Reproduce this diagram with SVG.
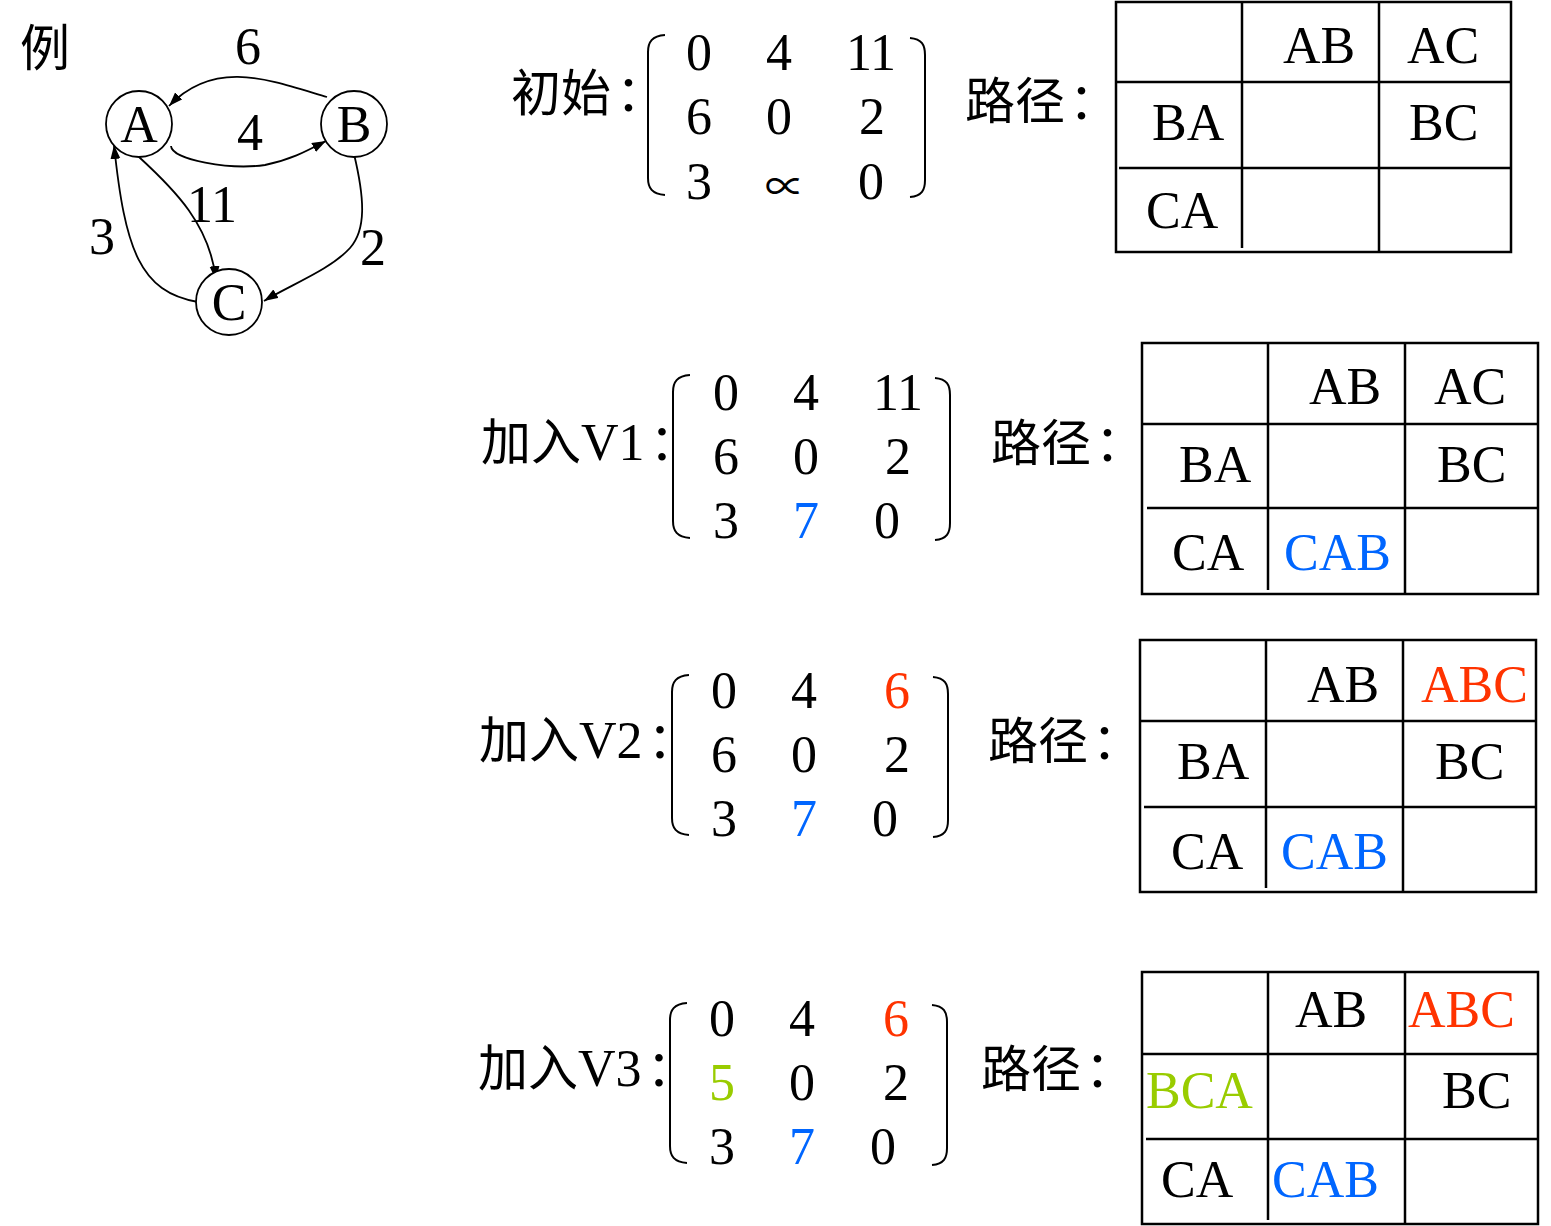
<svg xmlns="http://www.w3.org/2000/svg" width="1551" height="1226" viewBox="0 0 1551 1226">
<style>
.t{font-family:"Liberation Serif","Noto Sans CJK SC",serif;font-size:52px;fill:#000}
.c{font-family:"Liberation Serif","Noto Sans CJK SC",serif;font-size:50px;fill:#000}
.m{text-anchor:middle}
.blue{fill:#0066FF}
.red{fill:#FF3300}
.green{fill:#99CC00}
.ln{stroke:#000;stroke-width:2.5;fill:none}
.br{stroke:#000;stroke-width:2;fill:none}
.node{fill:#fff;stroke:#000;stroke-width:1.8}
.edge{stroke:#000;stroke-width:1.8;fill:none;marker-end:url(#ah)}
</style>
<defs>
<marker id="ah" markerUnits="userSpaceOnUse" markerWidth="16" markerHeight="12" refX="14" refY="5" orient="auto">
<path d="M0,0 L14,5 L0,10 z" fill="#000"/>
</marker>
</defs>
<rect width="1551" height="1226" fill="#fff"/>

<text class="c" x="20" y="66">例</text>

<g id="connectors">
<path class="edge" d="M327 97 C270 80 215 58 169 106"/>
<path class="edge" d="M171 146 C172 160 230 170 265 165 C290 160 305 152 326 141"/>
<path class="edge" d="M139 157 C175 190 210 225 216 280"/>
<path class="edge" d="M198 302 C140 292 125 250 114 145"/>
<path class="edge" d="M354 154 C365 200 366 230 350 248 C330 270 290 285 264 301"/>
<text class="t m" x="248" y="64">6</text>
<text class="t m" x="250" y="150">4</text>
<text class="t m" x="212" y="222">11</text>
<text class="t m" x="102" y="254">3</text>
<text class="t m" x="373" y="265">2</text>
</g>

<g id="nodeA"><circle class="node" cx="139" cy="124" r="33"/><text class="t m" x="139" y="142">A</text></g>
<g id="nodeB"><circle class="node" cx="354" cy="124" r="33"/><text class="t m" x="354" y="142">B</text></g>
<g id="nodeC"><circle class="node" cx="229" cy="302" r="33"/><text class="t m" x="229" y="320">C</text></g>

<!-- Matrix 1 -->
<g id="matrix0">
<text class="c" x="511" y="111">初始<tspan dx="5">：</tspan></text>
<path class="br" d="M665 35 C652 36 648 42 648 52 L648 178 C648 188 652 194 665 195"/>
<path class="br" d="M910 38 C922 39 925 45 925 55 L925 180 C925 190 922 196 910 197"/>
<text class="t m" x="699" y="70">0</text><text class="t m" x="779" y="70">4</text><text class="t m" x="871" y="70">11</text>
<text class="t m" x="699" y="134">6</text><text class="t m" x="779" y="134">0</text><text class="t m" x="872" y="134">2</text>
<text class="t m" x="699" y="199">3</text><text class="t m" x="785" y="201" style="font-size:40px">∝</text><text class="t m" x="871" y="199">0</text>
<text class="c" x="965" y="119">路径<tspan dx="4">：</tspan></text>
</g>
<g id="table0">
<rect class="ln" x="1116" y="2" width="395" height="250"/>
<line class="ln" x1="1116" y1="82" x2="1511" y2="82"/>
<line class="ln" x1="1119" y1="168" x2="1511" y2="168"/>
<line class="ln" x1="1242" y1="2" x2="1242" y2="248"/>
<line class="ln" x1="1379" y1="2" x2="1379" y2="252"/>
<text class="t" x="1283" y="63">AB</text><text class="t" x="1407" y="63">AC</text>
<text class="t" x="1152" y="140">BA</text><text class="t" x="1409" y="140">BC</text>
<text class="t" x="1146" y="228">CA</text>
</g>

<!-- Matrix 2 -->
<g id="matrix1">
<text class="c" x="481" y="460">加入<tspan class="t">V1</tspan><tspan dx="5">：</tspan></text>
<path class="br" d="M690 375 C677 376 673 382 673 392 L673 521 C673 531 677 537 690 538"/>
<path class="br" d="M935 378 C947 379 950 385 950 395 L950 523 C950 533 947 539 935 540"/>
<text class="t m" x="726" y="410">0</text><text class="t m" x="806" y="410">4</text><text class="t m" x="898" y="410">11</text>
<text class="t m" x="726" y="474">6</text><text class="t m" x="806" y="474">0</text><text class="t m" x="898" y="474">2</text>
<text class="t m" x="726" y="538">3</text><text class="t m blue" x="806" y="538">7</text><text class="t m" x="887" y="538">0</text>
<text class="c" x="991" y="461">路径<tspan dx="4">：</tspan></text>
</g>
<g id="table1">
<rect class="ln" x="1142" y="343" width="396" height="251"/>
<line class="ln" x1="1142" y1="424" x2="1538" y2="424"/>
<line class="ln" x1="1147" y1="508" x2="1538" y2="508"/>
<line class="ln" x1="1268" y1="343" x2="1268" y2="590"/>
<line class="ln" x1="1405" y1="343" x2="1405" y2="594"/>
<text class="t" x="1309" y="404">AB</text><text class="t" x="1434" y="404">AC</text>
<text class="t" x="1179" y="482">BA</text><text class="t" x="1437" y="482">BC</text>
<text class="t" x="1172" y="570">CA</text><text class="t blue" x="1284" y="570">CAB</text>
</g>

<!-- Matrix 3 -->
<g id="matrix2">
<text class="c" x="479" y="758">加入<tspan class="t">V2</tspan><tspan dx="5">：</tspan></text>
<path class="br" d="M689 675 C676 676 672 682 672 692 L672 818 C672 828 676 834 689 835"/>
<path class="br" d="M933 677 C945 678 948 684 948 694 L948 820 C948 830 945 836 933 837"/>
<text class="t m" x="724" y="708">0</text><text class="t m" x="804" y="708">4</text><text class="t m red" x="897" y="708">6</text>
<text class="t m" x="724" y="772">6</text><text class="t m" x="804" y="772">0</text><text class="t m" x="897" y="772">2</text>
<text class="t m" x="724" y="836">3</text><text class="t m blue" x="804" y="836">7</text><text class="t m" x="885" y="836">0</text>
<text class="c" x="988" y="759">路径<tspan dx="4">：</tspan></text>
</g>
<g id="table2">
<rect class="ln" x="1140" y="640" width="396" height="252"/>
<line class="ln" x1="1140" y1="721" x2="1536" y2="721"/>
<line class="ln" x1="1144" y1="807" x2="1536" y2="807"/>
<line class="ln" x1="1266" y1="640" x2="1266" y2="888"/>
<line class="ln" x1="1403" y1="640" x2="1403" y2="892"/>
<text class="t" x="1307" y="702">AB</text><text class="t red" x="1421" y="702">ABC</text>
<text class="t" x="1177" y="779">BA</text><text class="t" x="1435" y="779">BC</text>
<text class="t" x="1171" y="869">CA</text><text class="t blue" x="1281" y="869">CAB</text>
</g>

<!-- Matrix 4 -->
<g id="matrix3">
<text class="c" x="478" y="1086">加入<tspan class="t">V3</tspan><tspan dx="5">：</tspan></text>
<path class="br" d="M687 1003 C674 1004 670 1010 670 1020 L670 1146 C670 1156 674 1162 687 1163"/>
<path class="br" d="M932 1005 C944 1006 947 1012 947 1022 L947 1148 C947 1158 944 1164 932 1165"/>
<text class="t m" x="722" y="1036">0</text><text class="t m" x="802" y="1036">4</text><text class="t m red" x="896" y="1036">6</text>
<text class="t m green" x="722" y="1100">5</text><text class="t m" x="802" y="1100">0</text><text class="t m" x="896" y="1100">2</text>
<text class="t m" x="722" y="1164">3</text><text class="t m blue" x="802" y="1164">7</text><text class="t m" x="883" y="1164">0</text>
<text class="c" x="981" y="1087">路径<tspan dx="4">：</tspan></text>
</g>
<g id="table3">
<rect class="ln" x="1142" y="972" width="396" height="252"/>
<line class="ln" x1="1142" y1="1054" x2="1538" y2="1054"/>
<line class="ln" x1="1146" y1="1139" x2="1538" y2="1139"/>
<line class="ln" x1="1268" y1="972" x2="1268" y2="1220"/>
<line class="ln" x1="1405" y1="972" x2="1405" y2="1224"/>
<text class="t" x="1295" y="1027">AB</text><text class="t red" x="1408" y="1027">ABC</text>
<text class="t green" x="1146" y="1108">BCA</text><text class="t" x="1442" y="1108">BC</text>
<text class="t" x="1161" y="1197">CA</text><text class="t blue" x="1272" y="1197">CAB</text>
</g>
</svg>
